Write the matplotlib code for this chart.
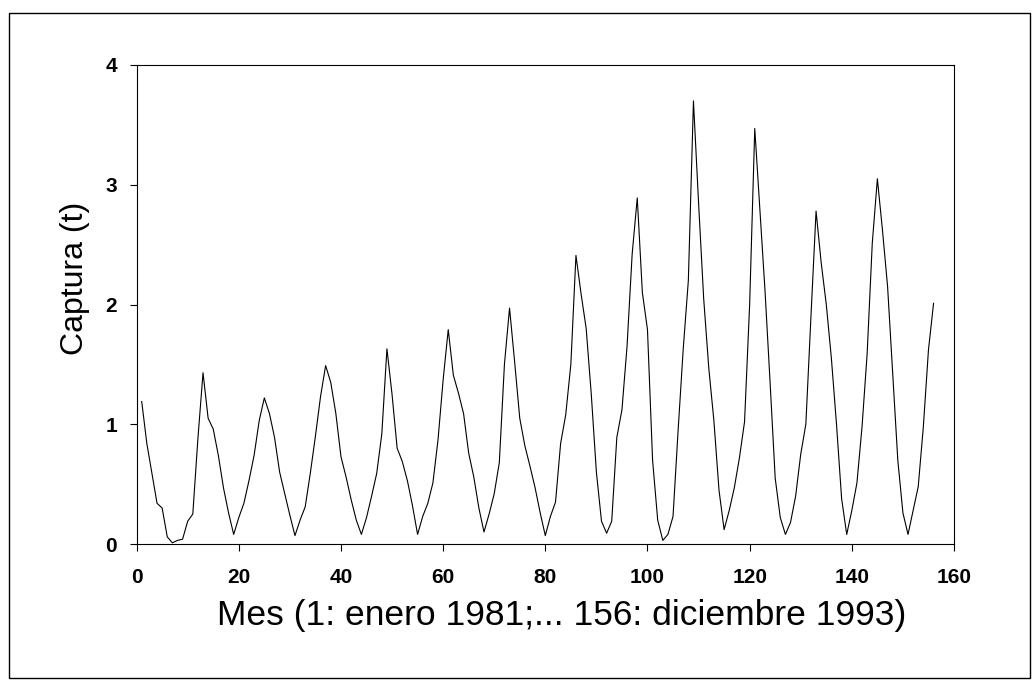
import numpy as np
import matplotlib.pyplot as plt
from matplotlib.patches import Rectangle

plt.rcParams["font.family"] = ["Liberation Sans", "DejaVu Sans"]

# monthly catch (t), month 1 = January 1981 ... month 156 = December 1993
months = np.arange(1, 157)
catch_1981_1986 = [
    1.19, 0.84, 0.59, 0.34, 0.30, 0.06, 0.01, 0.03, 0.04, 0.19, 0.25, 0.88,
    1.43, 1.05, 0.96, 0.74, 0.47, 0.26, 0.08, 0.22, 0.34, 0.53, 0.74, 1.03,
    1.22, 1.09, 0.89, 0.60, 0.42, 0.24, 0.07, 0.20, 0.31, 0.59, 0.90, 1.23,
    1.49, 1.35, 1.09, 0.73, 0.56, 0.37, 0.20, 0.08, 0.22, 0.40, 0.59, 0.92,
    1.63, 1.25, 0.80, 0.69, 0.53, 0.32, 0.08, 0.23, 0.34, 0.51, 0.87, 1.37,
    1.79, 1.41, 1.26, 1.09, 0.76, 0.56, 0.30, 0.10, 0.25, 0.42, 0.68, 1.50,
]
catch_1987_1993 = [
    1.97, 1.52, 1.05, 0.82, 0.65, 0.47, 0.26, 0.07, 0.23, 0.35, 0.84, 1.08,
    1.50, 2.41, 2.09, 1.80, 1.25, 0.60, 0.19, 0.09, 0.19, 0.89, 1.12, 1.65,
    2.42, 2.89, 2.10, 1.79, 0.70, 0.20, 0.03, 0.08, 0.23, 0.95, 1.63, 2.20,
    3.70, 2.85, 2.05, 1.47, 1.03, 0.45, 0.12, 0.28, 0.47, 0.72, 1.02, 2.00,
    3.47, 2.80, 2.12, 1.35, 0.55, 0.22, 0.08, 0.18, 0.40, 0.75, 1.00, 1.90,
    2.78, 2.35, 2.00, 1.55, 1.00, 0.38, 0.08, 0.28, 0.51, 0.98, 1.59, 2.51,
    3.05, 2.62, 2.15, 1.43, 0.70, 0.26, 0.08, 0.28, 0.48, 0.98, 1.62, 2.01,
]
catch = np.array(catch_1981_1986 + catch_1987_1993)

x_ticks = np.arange(0, 161, 20)
y_ticks = [0, 1, 2, 3, 4]

fig = plt.figure(figsize=(10.36, 6.88), dpi=100)
ax = fig.add_axes([136.6 / 1036, 1 - 544 / 688, (954 - 136.6) / 1036, (544 - 65) / 688])

ax.plot(months, catch, color="black", lw=0.8)

ax.set_xlim(0, 160)
ax.set_ylim(0, 4)
ax.set_xticks(x_ticks)
ax.set_yticks(y_ticks)
ax.tick_params(direction="out", length=5, width=0.8, labelsize=15)
ax.tick_params(axis="x", pad=12)
ax.tick_params(axis="y", pad=9)
for lab in ax.get_xticklabels() + ax.get_yticklabels():
    lab.set_fontweight("bold")
for s in ax.spines.values():
    s.set_linewidth(0.8)

ax.set_xlabel("Mes (1: enero 1981;... 156: diciembre 1993)", fontsize=25.5)
ax.set_ylabel("Captura (t)", fontsize=23)
ax.xaxis.set_label_coords(0.52, -0.114)
ax.yaxis.set_label_coords(-0.057, 0.555)

# outer frame round the whole figure
fig.patches.append(Rectangle((9 / 1036, 10 / 688), (1030 - 9) / 1036, (678 - 13) / 688,
                             transform=fig.transFigure, fill=False,
                             edgecolor="black", lw=1.0))

fig.savefig("out.png", dpi=100)
